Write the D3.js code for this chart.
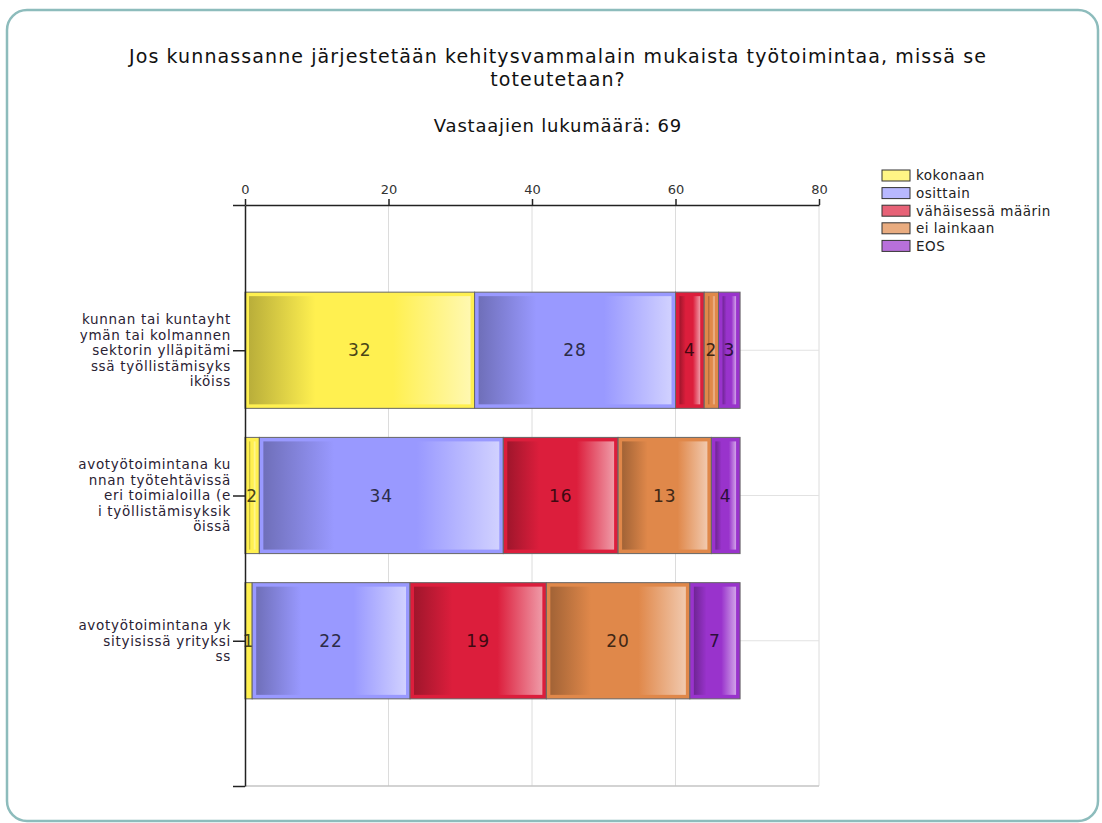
<!DOCTYPE html>
<html>
<head>
<meta charset="utf-8">
<script src="https://cdn.jsdelivr.net/npm/d3@7"></script>
<style>
  body { margin: 0; background: #fff; }
  text { font-family: "DejaVu Sans", Verdana, sans-serif; }
</style>
</head>
<body>
<div id="main"></div>
<script>
// data
var categories = [
  ["kunnan tai kuntayht", "ymän tai kolmannen", "sektorin ylläpitämi", "ssä työllistämisyks", "iköiss"],
  ["avotyötoimintana ku", "nnan työtehtävissä", "eri toimialoilla (e", "i työllistämisyksik", "öissä"],
  ["avotyötoimintana yk", "sityisissä yrityksi", "ss"]
];
var seriesNames = ["kokonaan", "osittain", "vähäisessä määrin", "ei lainkaan", "EOS"];
var kokonaan = [32, 2, 1];
var osittain = [28, 34, 22];
var vahaisessa = [4, 16, 19];
var eiLainkaan = [2, 13, 20];
var eos = [3, 4, 7];
var xTicks = [0, 20, 40, 60, 80];

var seriesValues = [kokonaan, osittain, vahaisessa, eiLainkaan, eos];
var colors = ["#fff050", "#9999ff", "#dc1e3c", "#e0884a", "#9933cc"];

var W = 1102, H = 823;

var svg = d3.select("#main")
  .append("svg")
    .attr("width", W)
    .attr("height", H);

// rounded frame
svg.append("rect")
  .attr("x", 7).attr("y", 10)
  .attr("width", 1091).attr("height", 811)
  .attr("rx", 20).attr("ry", 20)
  .attr("fill", "#fff")
  .attr("stroke", "#8dbcbc")
  .attr("stroke-width", 2.5);

// title
svg.append("text")
  .attr("x", 558).attr("y", 63)
  .attr("text-anchor", "middle")
  .attr("font-size", 19)
  .attr("letter-spacing", 1.1)
  .attr("fill", "#111")
  .text("Jos kunnassanne järjestetään kehitysvammalain mukaista työtoimintaa, missä se");
svg.append("text")
  .attr("x", 558).attr("y", 86)
  .attr("text-anchor", "middle")
  .attr("font-size", 19)
  .attr("letter-spacing", 1.1)
  .attr("fill", "#111")
  .text("toteutetaan?");
svg.append("text")
  .attr("x", 558).attr("y", 132)
  .attr("text-anchor", "middle")
  .attr("font-size", 18)
  .attr("letter-spacing", 0.8)
  .attr("fill", "#111")
  .text("Vastaajien lukumäärä: 69");

// scales
var x = d3.scaleLinear().domain([0, 80]).range([245, 819]);
var y = d3.scaleLinear().domain([0, categories.length + 1]).range([205, 786]);
var step = y(1) - y(0);
var barH = step * 0.8;

// gradients
var defs = svg.append("defs");
colors.forEach(function(c, i) {
  var base = d3.color(c);
  var g = defs.append("linearGradient")
    .attr("id", "grad" + i)
    .attr("x1", "0%").attr("x2", "100%")
    .attr("y1", "0%").attr("y2", "0%");
  g.append("stop").attr("offset", "0%").attr("stop-color", base.darker(0.9));
  g.append("stop").attr("offset", "30%").attr("stop-color", base);
  g.append("stop").attr("offset", "65%").attr("stop-color", base);
  g.append("stop").attr("offset", "100%").attr("stop-color", d3.interpolateRgb(c, "#fff")(0.55));
});

// grid
var grid = svg.append("g");
grid.selectAll("line.v")
  .data(xTicks.slice(1))
  .enter().append("line")
    .attr("x1", function(d) { return x(d); })
    .attr("x2", function(d) { return x(d); })
    .attr("y1", y(0)).attr("y2", y(categories.length + 1))
    .attr("stroke", "#dcdcdc");
grid.selectAll("line.h")
  .data(d3.range(1, categories.length + 2))
  .enter().append("line")
    .attr("x1", x(0)).attr("x2", x(80))
    .attr("y1", function(d) { return y(d); })
    .attr("y2", function(d) { return y(d); })
    .attr("stroke", function(d) { return d === categories.length + 1 ? "#c4c4c4" : "#e2e2e2"; })
    .attr("stroke-width", function(d) { return d === categories.length + 1 ? 1.5 : 1; });

// stacked segments
var rows = categories.map(function(c, ci) {
  var acc = 0;
  return seriesValues.map(function(vals, si) {
    var seg = {cat: ci, s: si, v: vals[ci], x0: acc, x1: acc + vals[ci]};
    acc += vals[ci];
    return seg;
  });
});
var segs = [].concat.apply([], rows);

var bars = svg.append("g");
var segG = bars.selectAll("g.seg")
  .data(segs)
  .enter().append("g")
  .attr("class", "seg");

segG.append("rect")
  .attr("x", function(d) { return x(d.x0); })
  .attr("y", function(d) { return y(d.cat + 1) - barH / 2; })
  .attr("width", function(d) { return x(d.x1) - x(d.x0); })
  .attr("height", barH)
  .attr("fill", function(d) { return colors[d.s]; })
  .attr("stroke", "#666")
  .attr("stroke-width", 1);

segG.append("rect")
  .attr("x", function(d) { return x(d.x0) + 4; })
  .attr("y", function(d) { return y(d.cat + 1) - barH / 2 + 4; })
  .attr("width", function(d) { return Math.max(0, x(d.x1) - x(d.x0) - 8); })
  .attr("height", barH - 8)
  .attr("fill", function(d) { return "url(#grad" + d.s + ")"; });

segG.append("text")
  .attr("x", function(d) { return (x(d.x0) + x(d.x1)) / 2; })
  .attr("y", function(d) { return y(d.cat + 1); })
  .attr("dy", "0.36em")
  .attr("text-anchor", "middle")
  .attr("font-size", 17)
  .attr("letter-spacing", 1)
  .attr("fill", function(d) { return d3.color(colors[d.s]).darker(3.5); })
  .text(function(d) { return d.v; });

// axes
var xAxis = svg.append("g")
  .attr("transform", "translate(0," + y(0) + ")")
  .call(d3.axisTop(x).tickValues(xTicks).tickSize(6).tickSizeOuter(0).tickPadding(5));
xAxis.select(".domain").attr("stroke", "#222").attr("stroke-width", 1.5);
xAxis.selectAll(".tick line").attr("stroke", "#222").attr("stroke-width", 1.5);
xAxis.selectAll(".tick text").attr("font-size", 13).attr("fill", "#333")
  .attr("font-family", "'DejaVu Sans', Verdana, sans-serif");

var yAxis = svg.append("g")
  .attr("transform", "translate(" + x(0) + ",0)")
  .call(d3.axisLeft(y).tickValues(d3.range(0, categories.length + 2)).tickSize(12).tickSizeOuter(0).tickFormat(""));
yAxis.select(".domain").attr("stroke", "#222").attr("stroke-width", 1.5);
yAxis.selectAll(".tick line").attr("stroke", "#222").attr("stroke-width", 1.5);

// category labels
var lineH = 15.5;
categories.forEach(function(lines, ci) {
  var t = svg.append("text")
    .attr("text-anchor", "end")
    .attr("font-size", 13.5)
    .attr("letter-spacing", 0.7)
    .attr("fill", "#2a2233");
  var top = y(ci + 1) - (lines.length - 1) * lineH / 2;
  lines.forEach(function(l, li) {
    t.append("tspan")
      .attr("x", 231)
      .attr("y", top + li * lineH)
      .attr("dy", "0.36em")
      .text(l);
  });
});

// legend
var legend = svg.append("g").attr("transform", "translate(882,170)");
var item = legend.selectAll("g")
  .data(seriesNames)
  .enter().append("g")
  .attr("transform", function(d, i) { return "translate(0," + (i * 17.6) + ")"; });
item.append("rect")
  .attr("width", 28).attr("height", 11)
  .attr("fill", function(d, i) { return d3.interpolateRgb(colors[i], "#fff")(0.3); })
  .attr("stroke", "#333");
item.append("text")
  .attr("x", 34).attr("y", 5.5).attr("dy", "0.36em")
  .attr("font-size", 13.5)
  .attr("letter-spacing", 0.5)
  .attr("fill", "#222")
  .text(function(d) { return d; });
</script>
</body>
</html>
